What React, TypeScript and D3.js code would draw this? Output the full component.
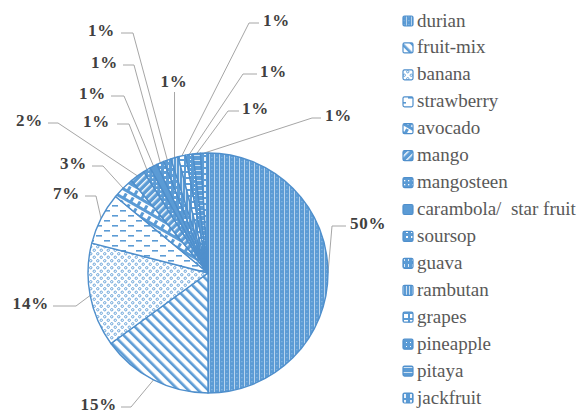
import React from 'react';
import * as d3 from 'd3';

// ---- data ----
const categories = [
  'durian', 'fruit-mix', 'banana', 'strawberry', 'avocado', 'mango', 'mangosteen',
  'carambola/  star fruit', 'soursop', 'guava', 'rambutan', 'grapes', 'pineapple', 'pitaya', 'jackfruit',
];
const shares = [50, 15, 14, 7, 3, 2, 1, 1, 1, 1, 1, 1, 1, 1, 1];
const shareLabels = shares.map((v) => `${v}%`);

// ---- layout (label placement, not data) ----
type LabelPos = { tx: number; ty: number; anchor: 'start' | 'end' | 'middle'; hx1: number | null; elbow: number | null };
const labelLayout: LabelPos[] = [
  { tx: 350, ty: 229, anchor: 'start', hx1: 346, elbow: 332 },
  { tx: 117, ty: 410, anchor: 'end', hx1: 121, elbow: 131 },
  { tx: 49, ty: 309, anchor: 'end', hx1: 53, elbow: 76 },
  { tx: 80, ty: 199, anchor: 'end', hx1: 85, elbow: 96 },
  { tx: 87, ty: 169, anchor: 'end', hx1: 92, elbow: 103 },
  { tx: 43, ty: 126, anchor: 'end', hx1: 48, elbow: 58 },
  { tx: 110, ty: 127, anchor: 'end', hx1: 117, elbow: 129 },
  { tx: 106, ty: 99, anchor: 'end', hx1: 111, elbow: 124 },
  { tx: 118, ty: 68, anchor: 'end', hx1: 123, elbow: 134 },
  { tx: 115, ty: 36, anchor: 'end', hx1: 121, elbow: 133 },
  { tx: 174, ty: 87, anchor: 'middle', hx1: null, elbow: null },
  { tx: 263, ty: 26, anchor: 'start', hx1: 259, elbow: 249 },
  { tx: 260, ty: 77, anchor: 'start', hx1: 257, elbow: 243 },
  { tx: 242, ty: 114, anchor: 'start', hx1: 239, elbow: 228 },
  { tx: 325, ty: 121, anchor: 'start', hx1: 321, elbow: 312 },
];

const W = 583;
const H = 418;
const CX = 208;
const CY = 273;
const R = 120;
const BLUE = '#5B9BD5';
const EDGE = '#4f8fcc';
const LEADER = '#a6a6a6';
const SERIF = '"Liberation Serif"';

function Patterns() {
  const s = BLUE;
  return (
    <defs>
      <pattern id="p0" width="5" height="4" patternUnits="userSpaceOnUse">
        <rect width="5" height="4" fill={s} />
        <rect x="1" width="1" height="4" fill="#d6e6f5" opacity="0.75" />
        <rect x="3.5" y="0" width="0.8" height="1.2" fill="#ffffff" opacity="0.45" />
      </pattern>
      <pattern id="p1" width="7" height="7" patternUnits="userSpaceOnUse" patternTransform="rotate(-45)">
        <rect width="7" height="7" fill="#fff" />
        <rect width="2.6" height="7" fill={s} />
      </pattern>
      <pattern id="p2" width="7" height="7" patternUnits="userSpaceOnUse">
        <rect width="7" height="7" fill="#fff" />
        <circle cx="1.75" cy="1.75" r="1.2" fill="none" stroke={s} strokeWidth="0.9" />
        <circle cx="5.25" cy="5.25" r="1.2" fill="none" stroke={s} strokeWidth="0.9" />
      </pattern>
      <pattern id="p3" width="16" height="10" patternUnits="userSpaceOnUse">
        <rect width="16" height="10" fill="#fff" />
        <rect x="0" y="2" width="6" height="1.6" fill={s} />
        <rect x="8" y="7" width="6" height="1.6" fill={s} />
      </pattern>
      <pattern id="p4" width="8" height="8" patternUnits="userSpaceOnUse" patternTransform="rotate(30)">
        <rect width="8" height="8" fill="#fff" />
        <rect width="8" height="3" fill={s} />
        <rect x="0" y="4" width="3" height="4" fill={s} />
      </pattern>
      <pattern id="p5" width="5" height="5" patternUnits="userSpaceOnUse" patternTransform="rotate(45)">
        <rect width="5" height="5" fill={s} />
        <rect width="1.4" height="5" fill="#fff" />
      </pattern>
      <pattern id="p6" width="4" height="4" patternUnits="userSpaceOnUse">
        <rect width="4" height="4" fill={s} />
        <rect x="0" y="0" width="1.3" height="1.3" fill="#fff" />
      </pattern>
      <pattern id="p7" width="4" height="4" patternUnits="userSpaceOnUse">
        <rect width="4" height="4" fill={s} />
      </pattern>
      <pattern id="p8" width="5" height="5" patternUnits="userSpaceOnUse">
        <rect width="5" height="5" fill={s} />
        <rect x="1" y="1" width="2" height="2" fill="#fff" />
      </pattern>
      <pattern id="p9" width="4" height="6" patternUnits="userSpaceOnUse">
        <rect width="4" height="6" fill={s} />
        <rect x="0" y="0" width="1" height="3" fill="#fff" opacity="0.8" />
      </pattern>
      <pattern id="p10" width="3" height="6" patternUnits="userSpaceOnUse">
        <rect width="3" height="6" fill={s} />
        <rect x="1" y="0" width="1" height="6" fill="#fff" opacity="0.7" />
      </pattern>
      <pattern id="p11" width="6" height="6" patternUnits="userSpaceOnUse">
        <rect width="6" height="6" fill="#fff" />
        <rect width="6" height="2" fill={s} />
        <rect width="2" height="6" fill={s} />
      </pattern>
      <pattern id="p12" width="4" height="4" patternUnits="userSpaceOnUse">
        <rect width="4" height="4" fill={s} />
        <rect x="2" y="2" width="1" height="1" fill="#fff" />
      </pattern>
      <pattern id="p13" width="5" height="5" patternUnits="userSpaceOnUse">
        <rect width="5" height="5" fill={s} />
        <rect x="0" y="2" width="5" height="1" fill="#fff" opacity="0.7" />
      </pattern>
      <pattern id="p14" width="6" height="6" patternUnits="userSpaceOnUse">
        <rect width="6" height="6" fill={s} />
        <rect x="2" y="0" width="2" height="6" fill="#eaf2fa" />
        <rect x="0" y="2" width="6" height="2" fill={s} />
      </pattern>
    </defs>
  );
}

export default function App() {
  const pie = d3.pie<number>().sort(null).value((d) => d).startAngle(0).endAngle(2 * Math.PI);
  const arcs = pie(shares);
  const arcGen = d3.arc<d3.PieArcDatum<number>>().innerRadius(0).outerRadius(R);

  const legendY = d3.scalePoint<string>().domain(categories).range([21, 398]);

  return (
    <svg width={W} height={H} style={{ position: 'absolute', left: 0, top: 0, background: '#fff' }}>
      <Patterns />
      <rect width={W} height={H} fill="#fff" />

      <g fill="none" stroke={LEADER} strokeWidth={1}>
        {arcs.map((a, i) => {
          const L = labelLayout[i];
          const mid = (a.startAngle + a.endAngle) / 2;
          const ax = CX + R * Math.sin(mid);
          const ay = CY - R * Math.cos(mid);
          const hy = L.ty - 3;
          let pts: [number, number][];
          if (L.hx1 == null || L.elbow == null) {
            pts = [[ax, L.ty + 5], [ax, ay]];
          } else {
            pts = [[L.hx1, hy], [L.elbow, hy], [ax, ay]];
          }
          return <path key={i} d={d3.line()(pts) || ''} />;
        })}
      </g>

      <g transform={`translate(${CX},${CY})`}>
        {arcs.map((a, i) => (
          <path key={i} d={arcGen(a) || ''} fill={`url(#p${i})`} stroke={EDGE} strokeWidth={1.4} strokeLinejoin="round" />
        ))}
      </g>

      {arcs.map((a, i) => {
        const L = labelLayout[i];
        return (
          <text
            key={`l${i}`}
            x={L.tx}
            y={L.ty}
            textAnchor={L.anchor}
            fill="#404040"
            fontSize={17}
            fontWeight="bold"
            letterSpacing={0.8}
            style={{ fontFamily: SERIF }}
          >
            {shareLabels[i]}
          </text>
        );
      })}

      {categories.map((c, i) => {
        const y = legendY(c) as number;
        return (
          <g key={c}>
            <rect x={403} y={y - 5} width={10} height={10} rx={1.5} fill={`url(#p${i})`} stroke={EDGE} strokeWidth={1.2} />
            <text
              x={417}
              y={y + 5.5}
              fill="#595959"
              fontSize={19}
              xmlSpace="preserve"
              style={{ fontFamily: SERIF, whiteSpace: 'pre' }}
            >
              {c}
            </text>
          </g>
        );
      })}
    </svg>
  );
}
